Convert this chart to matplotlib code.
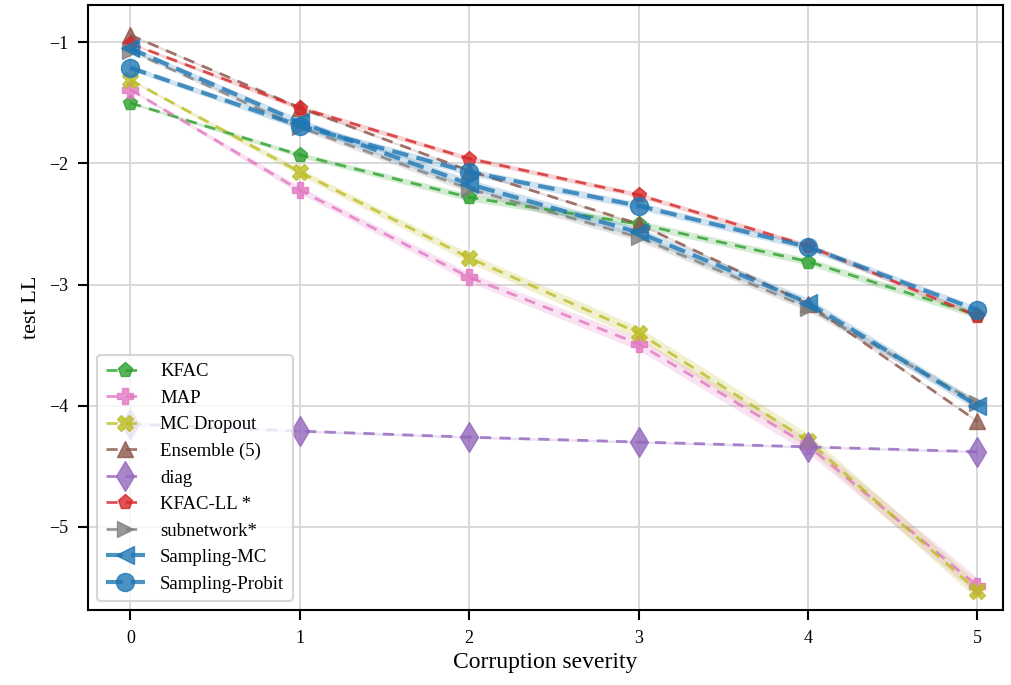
import numpy as np
import matplotlib.pyplot as plt

plt.rcParams['font.family'] = ['Liberation Serif', 'DejaVu Serif']
plt.rcParams['axes.unicode_minus'] = True

severity = [0, 1, 2, 3, 4, 5]

kfac = [-1.50, -1.93, -2.28, -2.50, -2.81, -3.25]
map_ll = [-1.39, -2.22, -2.94, -3.49, -4.33, -5.49]
mc_dropout = [-1.31, -2.07, -2.78, -3.40, -4.29, -5.53]
ensemble = [-0.94, -1.54, -2.06, -2.50, -3.16, -4.13]
diag = [-4.15, -4.21, -4.26, -4.30, -4.34, -4.38]
kfac_ll = [-1.01, -1.54, -1.96, -2.26, -2.68, -3.26]
subnetwork = [-1.07, -1.70, -2.21, -2.61, -3.19, -3.98]
sampling_mc = [-1.05, -1.66, -2.17, -2.57, -3.15, -4.00]
sampling_probit = [-1.21, -1.69, -2.07, -2.35, -2.69, -3.21]

# rough spread of the shaded bands
kfac_std = [0.01, 0.02, 0.03, 0.03, 0.03, 0.03]
map_std = [0.01, 0.03, 0.04, 0.05, 0.06, 0.07]
mc_dropout_std = [0.01, 0.03, 0.04, 0.05, 0.06, 0.07]
ensemble_std = [0.01, 0.01, 0.01, 0.01, 0.01, 0.01]
diag_std = [0.01, 0.01, 0.01, 0.01, 0.01, 0.01]
kfac_ll_std = [0.01, 0.02, 0.02, 0.02, 0.02, 0.02]
subnetwork_std = [0.01, 0.02, 0.03, 0.03, 0.03, 0.03]
sampling_mc_std = [0.02, 0.03, 0.04, 0.04, 0.04, 0.04]
sampling_probit_std = [0.02, 0.03, 0.03, 0.03, 0.03, 0.03]

series = [
    ("KFAC", kfac, kfac_std, "tab:green", "p", 11, 2.0, (0, (4, 3))),
    ("MAP", map_ll, map_std, "tab:pink", "P", 12, 2.0, (0, (4, 3))),
    ("MC Dropout", mc_dropout, mc_dropout_std, "tab:olive", "X", 12, 2.0, (0, (4, 3))),
    ("Ensemble (5)", ensemble, ensemble_std, "tab:brown", "^", 11, 2.0, (0, (4, 3))),
    ("diag", diag, diag_std, "tab:purple", "d", 15, 2.0, (0, (4, 3))),
    ("KFAC-LL *", kfac_ll, kfac_ll_std, "tab:red", "p", 11, 2.0, (0, (4, 3))),
    ("subnetwork*", subnetwork, subnetwork_std, "tab:gray", ">", 12, 2.0, (0, (4, 3))),
    ("Sampling-MC", sampling_mc, sampling_mc_std, "tab:blue", "<", 13, 3.0, (0, (4, 2))),
    ("Sampling-Probit", sampling_probit, sampling_probit_std, "tab:blue", "o", 13, 3.0, (0, (4, 2))),
]

fig, ax = plt.subplots(figsize=(10.11, 6.85), dpi=100)
ax.grid(True, color="#d9d9d9", linewidth=1.4, zorder=0)
ax.set_axisbelow(True)

x = np.array(severity)
for label, vals, std, color, marker, ms, lw, ls in series:
    vals = np.array(vals)
    std = np.array(std)
    ax.fill_between(x, vals - std, vals + std, color=color, alpha=0.2, linewidth=0)
    ax.plot(x, vals, color=color, marker=marker, markersize=ms, linewidth=lw,
            linestyle=ls, alpha=0.8, label=label)

ax.set_xlim(-0.25, 5.15)
ax.set_ylim(-5.69, -0.69)
ax.set_xticks(severity)
ax.set_yticks([-1, -2, -3, -4, -5])
ax.tick_params(labelsize=13, width=1.5, length=7, pad=7)
for s in ax.spines.values():
    s.set_linewidth(1.5)

ax.set_xlabel("Corruption severity", fontsize=17, labelpad=4)
ax.set_ylabel("test LL", fontsize=16, labelpad=6)

leg = ax.legend(loc="lower left", fontsize=13.5, framealpha=0.8, edgecolor="#cccccc",
                borderpad=0.45, handlelength=2.1, labelspacing=0.5)
leg.get_frame().set_linewidth(1.5)

fig.subplots_adjust(left=0.087, right=0.992, top=0.993, bottom=0.109)
fig.savefig("out.png", dpi=100)
